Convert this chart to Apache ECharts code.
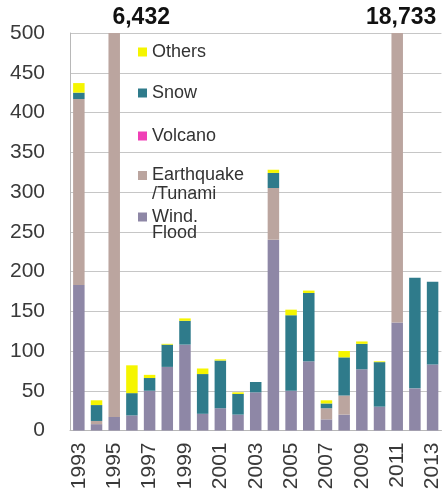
<!DOCTYPE html>
<html>
<head>
<meta charset="utf-8">
<style>
  html, body { margin: 0; padding: 0; background: #ffffff; }
  #chart { width: 443px; height: 494px; }
</style>
<script src="https://cdn.jsdelivr.net/npm/echarts@6/dist/echarts.min.js"></script>
</head>
<body>
<div id="chart"></div>
<script>
// Annual disaster counts by cause, 1993-2013
const years = ['1993','1994','1995','1996','1997','1998','1999','2000','2001','2002','2003',
               '2004','2005','2006','2007','2008','2009','2010','2011','2012','2013'];

const windFlood  = [183, 8, 17, 19, 50, 80, 108, 21, 28, 20, 48, 240, 50, 87, 14, 20, 77, 30, 136, 53, 83];
const earthquake = [234, 4, 6415, 0, 0, 0, 0, 0, 0, 0, 0, 65, 0, 0, 14, 24, 0, 0, 18597, 0, 0];
const volcano    = [0, 0, 0, 0, 0, 0, 0, 0, 0, 0, 0, 0, 0, 0, 0, 0, 0, 0, 0, 0, 0];
const snow       = [8, 20, 0, 28, 16, 28, 30, 50, 60, 26, 13, 19, 95, 86, 6, 48, 32, 56, 0, 139, 104];
const others     = [12, 6, 0, 35, 4, 1, 3, 7, 1.5, 2, 0, 4, 7, 3, 4, 8, 3, 1, 0, 0, 0];

const Y_MAX = 500;
const Y_STEP = 50;

const NAMES = {
  wind: 'Wind.\nFlood',
  quake: 'Earthquake\n/Tunami',
  volcano: 'Volcano',
  snow: 'Snow',
  others: 'Others'
};

const COLORS = {
  wind: '#8e87a6',
  quake: '#bba59f',
  volcano: '#f03fb6',
  snow: '#2f7b8b',
  others: '#f5f500'
};

const FONT = '"Liberation Sans", Arial, sans-serif';

// totals for the years whose bars run past the top of the axis
const totals = years.map((_, i) => windFlood[i] + earthquake[i] + volcano[i] + snow[i] + others[i]);
const labelShift = { '1995': 27, '2011': 4 };
const overflowPoints = years
  .map((y, i) => ({ y, total: totals[i] }))
  .filter(d => d.total > Y_MAX)
  .map(d => ({
    coord: [d.y, Y_MAX],
    value: d.total,
    label: { offset: [labelShift[d.y] || 0, -15] }
  }));

function barSeries(key, data, extra) {
  return Object.assign({
    name: NAMES[key],
    type: 'bar',
    stack: 'all',
    data: data,
    barWidth: 11.5,
    clip: true,
    itemStyle: { color: COLORS[key] },
    emphasis: { disabled: true }
  }, extra || {});
}

// one legend block per entry so each can sit on its own row;
// two-line names get a blank leading line so the swatch lines up with the first line
function legendItem(key, top, lineHeight) {
  return {
    data: [NAMES[key]],
    left: 138,
    top: top,
    padding: 0,
    itemWidth: 9,
    itemHeight: 9,
    icon: 'rect',
    selectedMode: false,
    formatter: n => (n.indexOf('\n') >= 0 ? ' \n' + n : n),
    textStyle: {
      fontFamily: FONT,
      fontSize: 18,
      color: '#333333',
      lineHeight: lineHeight
    }
  };
}

const chart = echarts.init(document.getElementById('chart'), null, { renderer: 'canvas' });

chart.setOption({
  animation: false,
  backgroundColor: '#ffffff',
  grid: { left: 70, top: 33, width: 375, height: 397.5 },
  legend: [
    legendItem('others', 42, 20),
    legendItem('snow', 83, 20),
    legendItem('volcano', 126, 20),
    legendItem('quake', 147, 19),
    legendItem('wind', 192, 16)
  ],
  xAxis: {
    type: 'category',
    data: years,
    axisTick: { show: false },
    axisLine: { lineStyle: { color: '#b8b8b8', width: 1 } },
    axisLabel: {
      interval: 1,
      rotate: 90,
      margin: 12,
      fontFamily: FONT,
      fontSize: 21,
      color: '#3a3a3a'
    }
  },
  yAxis: {
    type: 'value',
    min: 0,
    max: Y_MAX,
    interval: Y_STEP,
    axisLine: { show: true, lineStyle: { color: '#b8b8b8', width: 1 } },
    axisTick: { show: false },
    splitLine: { lineStyle: { color: '#c6c6c6', width: 1 } },
    axisLabel: {
      margin: 25,
      fontFamily: FONT,
      fontSize: 21,
      color: '#3a3a3a'
    }
  },
  series: [
    barSeries('wind', windFlood),
    barSeries('quake', earthquake),
    barSeries('volcano', volcano),
    barSeries('snow', snow),
    barSeries('others', others, {
      markPoint: {
        symbol: 'rect',
        symbolSize: 1,
        itemStyle: { color: 'rgba(0,0,0,0)' },
        label: {
          show: true,
          position: 'inside',
          fontFamily: FONT,
          fontWeight: 'bold',
          fontSize: 23,
          color: '#111111',
          formatter: p => Number(p.value).toLocaleString('en-US')
        },
        data: overflowPoints
      }
    })
  ]
});
</script>
</body>
</html>
